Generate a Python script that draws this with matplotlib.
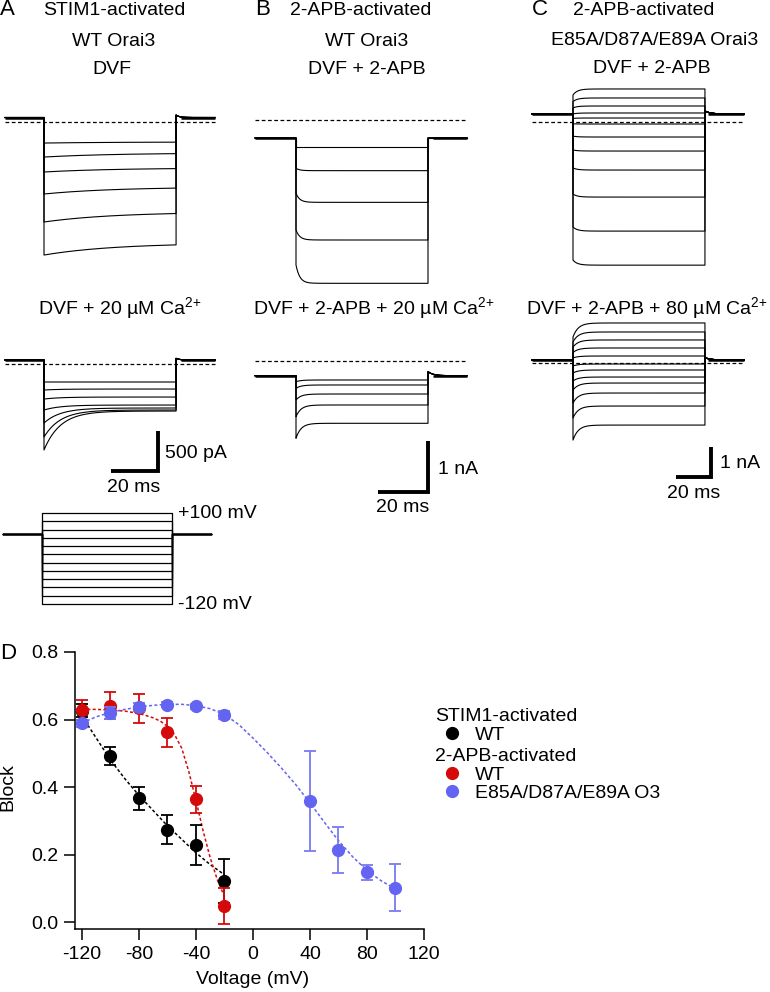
import numpy as np
import matplotlib
matplotlib.use("Agg")
import matplotlib.pyplot as plt
from matplotlib.lines import Line2D

plt.rcParams["font.family"] = ["Liberation Sans", "DejaVu Sans"]
plt.rcParams["mathtext.fontset"] = "custom"
plt.rcParams["mathtext.rm"] = "Liberation Sans"
plt.rcParams["mathtext.it"] = "Liberation Sans:italic"
plt.rcParams["mathtext.bf"] = "Liberation Sans:bold"
plt.rcParams["axes.unicode_minus"] = False
plt.rcParams["font.size"] = 14

# ---------------- data ----------------
# voltage protocol (mV)
protocol_mv = [-120, -100, -80, -60, -40, -20, 0, 20, 40, 60, 80, 100]
protocol_hold_mv = 50

# pulse timing per panel: (before, pulse, after) in ms
a_timing = (16.6, 56.2, 16.6)
b_timing = (16.4, 52.8, 15.6)
c_timing = (23.4, 75.4, 22.3)

# A: STIM1-activated WT Orai3, current (pA) at pulse onset / pulse end
a_dvf_hold = 56
a_dvf_start = [-263, -438, -625, -900, -1250, -1663]
a_dvf_end = [-250, -388, -575, -813, -1125, -1513]
a_ca_hold = 50
a_ca_start = [-225, -325, -438, -575, -738, -913, -1075]
a_ca_end = [-225, -313, -413, -513, -550, -575, -588]

# B: 2-APB-activated WT Orai3
b_dvf_hold = -353
b_dvf_start = [-535, -947, -1437, -2156, -2842]
b_dvf_end = [-535, -993, -1614, -2352, -3201]
b_ca_hold = -288
b_ca_start = [-405, -535, -764, -1091, -1515]
b_ca_end = [-372, -470, -647, -862, -1221]

# C: 2-APB-activated E85A/D87A/E89A Orai3
c_dvf_hold = 267
c_dvf_start = [900, 680, 470, 270, 120, -60, -470, -930, -1530, -2400, -3500, -4600]
c_dvf_end = [1100, 800, 533, 300, 133, -67, -500, -967, -1600, -2500, -3633, -4767]
c_ca_hold = 100
c_ca_start = [867, 700, 530, 350, 170, -100, -333, -600, -900, -1333, -1833, -2567]
c_ca_end = [1333, 1033, 767, 500, 233, -33, -233, -467, -667, -1000, -1433, -2067]

# D: block vs voltage
stim_v = [-120, -100, -80, -60, -40, -20]
stim_block = [0.626, 0.492, 0.366, 0.274, 0.228, 0.122]
stim_err = [0.02, 0.028, 0.035, 0.043, 0.06, 0.065]
apb_wt_v = [-120, -100, -80, -60, -40, -20]
apb_wt_block = [0.629, 0.641, 0.634, 0.562, 0.363, 0.047]
apb_wt_err = [0.03, 0.04, 0.043, 0.042, 0.04, 0.053]
mut_v = [-120, -100, -80, -60, -40, -20, 40, 60, 80, 100]
mut_block = [0.589, 0.619, 0.636, 0.644, 0.639, 0.614, 0.358, 0.213, 0.147, 0.102]
mut_err = [0.01, 0.018, 0.012, 0.008, 0.008, 0.012, 0.148, 0.068, 0.022, 0.069]

# fitted curves
stim_fit_v = [-120, -110, -100, -90, -80, -70, -60, -50, -40, -30, -20]
stim_fit = [0.61, 0.545, 0.48, 0.425, 0.375, 0.33, 0.285, 0.245, 0.205, 0.17, 0.14]
apb_fit_v = [-120, -110, -100, -90, -80, -70, -65, -60, -55, -50, -45, -40, -35, -30, -25, -20]
apb_fit = [0.63, 0.63, 0.628, 0.625, 0.618, 0.605, 0.595, 0.58, 0.555, 0.515, 0.445,
           0.36, 0.27, 0.19, 0.125, 0.075]
mut_fit_v = [-120, -110, -100, -90, -80, -70, -60, -50, -40, -30, -20, -10, 0,
             10, 20, 30, 40, 50, 60, 70, 80, 90, 100]
mut_fit = [0.59, 0.608, 0.621, 0.63, 0.637, 0.642, 0.645, 0.645, 0.641, 0.632, 0.615,
           0.585, 0.545, 0.502, 0.456, 0.407, 0.353, 0.296, 0.241, 0.193, 0.153, 0.122, 0.098]

RED = "#d40a0a"
BLUE = "#6464f2"

W, H = 770, 992
fig = plt.figure(figsize=(W / 100, H / 100), dpi=100)


def px_axes(left, top, right, bottom):
    return fig.add_axes([left / W, 1 - bottom / H, (right - left) / W, (bottom - top) / H])


def trace_axes(box, spec):
    # spec: (px of pulse onset, px of zero, px per ms, units per px)
    left, top, right, bottom = box
    x0, y0, px_ms, per_px = spec
    ax = px_axes(*box)
    ax.set_xlim((left - x0) / px_ms, (right - x0) / px_ms)
    ax.set_ylim((y0 - bottom) * per_px, (y0 - top) * per_px)
    ax.axis("off")
    return ax


def ptext(x, y, s, **kw):
    fig.text(x / W, 1 - y / H, s, **kw)


def draw_traces(ax, timing, hold, start, end, tau, tail=0.0, tail_tau=1.5):
    pre, dur, post = timing
    t_on = np.linspace(0, dur, 400)
    t_off = np.linspace(dur, dur + post, 150)
    for i0, iss in zip(start, end):
        i_on = iss + (i0 - iss) * np.exp(-t_on / tau)
        i_off = hold + tail * np.exp(-(t_off - dur) / tail_tau)
        ax.plot(np.r_[-pre, 0, t_on, t_off], np.r_[hold, hold, i_on, i_off],
                color="black", lw=0.8, clip_on=False)
    ax.plot([-pre, 0], [hold, hold], color="black", lw=1.8, solid_capstyle="butt")
    ax.plot([dur + 2, dur + post], [hold, hold], color="black", lw=1.8, solid_capstyle="butt")
    # zero current
    ax.plot([-pre, dur + post], [0, 0], color="black", lw=0.9, ls=(0, (3, 2)))


def scale_bar(ax, spec, corner, ms, amp):
    x0, y0, px_ms, per_px = spec
    t = (corner[0] - x0) / px_ms
    i = (y0 - corner[1]) * per_px
    ax.plot([t - ms, t, t], [i, i, i + amp], color="black", lw=2.8,
            solid_joinstyle="miter", solid_capstyle="butt", clip_on=False)


# ---------------- panel A ----------------
a_top = (44, 122, 2.35, 12.5)
a_bot = (44, 364, 2.35, 12.5)
ax = trace_axes((0, 80, 220, 270), a_top)
draw_traces(ax, a_timing, a_dvf_hold, a_dvf_start, a_dvf_end, tau=30, tail=30)
ax = trace_axes((0, 340, 220, 480), a_bot)
draw_traces(ax, a_timing, a_ca_hold, a_ca_start, a_ca_end, tau=7, tail=20)
scale_bar(ax, a_bot, (158, 471), 20, 500)

# voltage protocol
ax = trace_axes((0, 500, 220, 615), (42, 554.4, 2.32, 2.418))
pre, dur, post = a_timing
for v in protocol_mv:
    ax.plot([-pre, 0, 0, dur, dur, dur + post],
            [protocol_hold_mv, protocol_hold_mv, v, v, protocol_hold_mv, protocol_hold_mv],
            color="black", lw=0.9, clip_on=False)
ax.text(dur + 2.6, max(protocol_mv), f"+{max(protocol_mv)} mV", ha="left", va="center", fontsize=14)
ax.text(dur + 2.6, min(protocol_mv), f"{min(protocol_mv)} mV", ha="left", va="center", fontsize=14)

# ---------------- panel B ----------------
b_top = (296, 120, 2.5, 19.6)
b_bot = (296, 361, 2.5, 19.6)
ax = trace_axes((250, 100, 470, 290), b_top)
draw_traces(ax, b_timing, b_dvf_hold, b_dvf_start, b_dvf_end, tau=1.5)
ax = trace_axes((250, 350, 470, 500), b_bot)
draw_traces(ax, b_timing, b_ca_hold, b_ca_start, b_ca_end, tau=2, tail=80, tail_tau=2)
scale_bar(ax, b_bot, (428, 492), 20, 1000)

# ---------------- panel C ----------------
c_top = (573, 122, 1.75, 33.3)
c_bot = (573, 363, 1.75, 33.3)
ax = trace_axes((525, 80, 750, 275), c_top)
draw_traces(ax, c_timing, c_dvf_hold, c_dvf_start, c_dvf_end, tau=2.5, tail=100, tail_tau=3)
ax = trace_axes((525, 315, 750, 485), c_bot)
draw_traces(ax, c_timing, c_ca_hold, c_ca_start, c_ca_end, tau=3, tail=80, tail_tau=3)
scale_bar(ax, c_bot, (711, 477), 20, 1000)

# ---------------- titles and labels ----------------
for x, s in [(0, "A"), (255, "B"), (532, "C")]:
    ptext(x, 15, s, ha="left", va="baseline", fontsize=16)
ca = r"$\mathrm{Ca}^{2\!+}$"
for x, y, s in [(114, 15, "STIM1-activated"), (114, 46, "WT Orai3"), (112, 74, "DVF"),
                (361, 15, "2-APB-activated"), (367, 46, "WT Orai3"), (367, 74, "DVF + 2-APB"),
                (644, 15, "2-APB-activated"), (655, 45, "E85A/D87A/E89A Orai3"),
                (652, 73, "DVF + 2-APB"),
                (120, 314, "DVF + 20 µM " + ca),
                (374, 314, "DVF + 2-APB + 20 µM " + ca),
                (647, 314, "DVF + 2-APB + 80 µM " + ca)]:
    ptext(x, y, s, ha="center", va="baseline", fontsize=14)

ptext(165, 453, "500 pA", ha="left", va="center")
ptext(134, 487, "20 ms", ha="center", va="center")
ptext(438, 469, "1 nA", ha="left", va="center")
ptext(403, 508, "20 ms", ha="center", va="center")
ptext(720, 463, "1 nA", ha="left", va="center")
ptext(694, 493, "20 ms", ha="center", va="center")

# ---------------- panel D ----------------
axd = px_axes(75, 652, 424, 929)
axd.plot(stim_fit_v, stim_fit, color="black", lw=1.1, ls=(0, (2, 1.5)), zorder=2)
axd.plot(apb_fit_v, apb_fit, color=RED, lw=1.1, ls=(0, (2, 1.5)), zorder=2)
axd.plot(mut_fit_v, mut_fit, color=BLUE, lw=1.1, ls=(0, (2, 1.5)), zorder=2)
axd.errorbar(stim_v, stim_block, yerr=stim_err, fmt="o", color="black", ms=8.5,
             capsize=4, elinewidth=1.3, capthick=1.3, zorder=3)
axd.errorbar(apb_wt_v, apb_wt_block, yerr=apb_wt_err, fmt="o", color=RED, ms=8.5,
             capsize=4, elinewidth=1.3, capthick=1.3, zorder=4)
axd.errorbar(mut_v, mut_block, yerr=mut_err, fmt="o", color=BLUE, ecolor="#7a7af2", ms=8.5,
             capsize=4, elinewidth=1.3, capthick=1.3, zorder=5)

axd.set_xlim(-124.9, 120)
axd.set_ylim(-0.0207, 0.8)
axd.set_xticks([-120, -80, -40, 0, 40, 80, 120])
axd.set_yticks([0.0, 0.2, 0.4, 0.6, 0.8])
axd.set_yticklabels(["0.0", "0.2", "0.4", "0.6", "0.8"])
for side in ["top", "right"]:
    axd.spines[side].set_visible(False)
for side in ["left", "bottom"]:
    axd.spines[side].set_linewidth(1.1)
axd.tick_params(direction="out", length=8, width=1.1, labelsize=14, pad=4)
axd.set_xlabel("Voltage (mV)", fontsize=14)
axd.set_ylabel("Block", fontsize=14, va="center")
axd.xaxis.set_label_coords(0.51, -0.15)
axd.yaxis.set_label_coords(-0.192, 0.513)
ptext(0, 659, "D", ha="left", va="baseline", fontsize=16)

# legend
leg_kw = dict(loc="upper left", frameon=False, borderpad=0, borderaxespad=0,
              handlelength=1.75, handletextpad=0.3, labelspacing=0.05,
              alignment="left", title_fontsize=14, fontsize=14)
stim_h = [Line2D([], [], ls="none", marker="o", ms=8.5, color="black")]
apb_h = [Line2D([], [], ls="none", marker="o", ms=8.5, color=RED),
         Line2D([], [], ls="none", marker="o", ms=8.5, color=BLUE)]
fig.legend(stim_h, ["WT"], title="STIM1-activated",
           bbox_to_anchor=(435 / W, 1 - 708 / H), **leg_kw)
fig.legend(apb_h, ["WT", "E85A/D87A/E89A O3"], title="2-APB-activated",
           bbox_to_anchor=(435 / W, 1 - 748 / H), **leg_kw)

fig.savefig("out.png", dpi=100)
